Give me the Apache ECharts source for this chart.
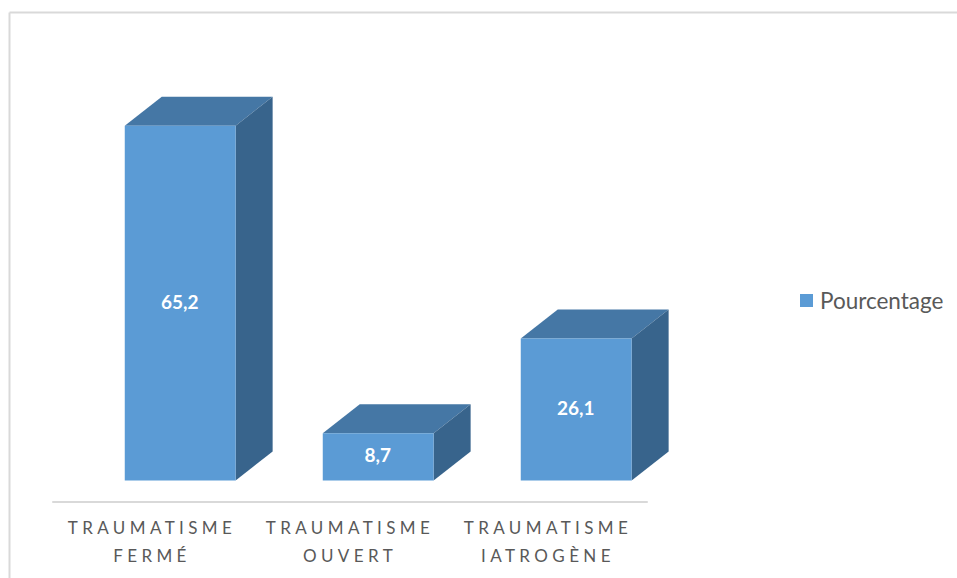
<!DOCTYPE html>
<html>
<head>
<meta charset="utf-8">
<title>Pourcentage</title>
<style>
  html, body { margin: 0; padding: 0; background: #fff; }
  #chart { width: 957px; height: 578px; }
  /* axis labels are spaced out, zrender has no option for it */
  #chart text[style*="Open Sans"] { letter-spacing: 4.4px; }
</style>
<script src="https://cdn.jsdelivr.net/npm/echarts@6/dist/echarts.min.js"></script>
</head>
<body>
<div id="chart"></div>
<script>
const categories = ["TRAUMATISME\nFERMÉ", "TRAUMATISME\nOUVERT", "TRAUMATISME\nIATROGÈNE"];
const seriesName = "Pourcentage";
const values = [65.2, 8.7, 26.1];

const chart = echarts.init(document.getElementById("chart"), null, { renderer: "svg" });

// fake 3D box: front face, top face, side face
function renderBox(params, api) {
  const idx = api.value(0);
  const val = api.value(1);
  const base = api.coord([idx, 0]);
  const top = api.coord([idx, val]);
  const w = api.size([1, 0])[0] * 0.56;
  const shift = 28.2;
  const dx = 37;
  const dy = -29;
  const x0 = base[0] + shift - w / 2;
  const x1 = x0 + w;
  const y0 = top[1];
  const y1 = base[1];
  return {
    type: "group",
    children: [
      {
        type: "polygon",
        shape: { points: [[x0, y0], [x0 + dx, y0 + dy], [x1 + dx, y0 + dy], [x1, y0]] },
        style: { fill: "#4577a5" }
      },
      {
        type: "polygon",
        shape: { points: [[x1, y0], [x1 + dx, y0 + dy], [x1 + dx, y1 + dy], [x1, y1]] },
        style: { fill: "#38648c" }
      },
      {
        type: "rect",
        shape: { x: x0, y: y0, width: w, height: y1 - y0 },
        style: { fill: "#5b9bd5" }
      },
      {
        type: "text",
        x: (x0 + x1) / 2 - 0.5,
        y: (y0 + y1) / 2 - 2,
        style: {
          text: String(val).replace(".", ","),
          fill: "#fff",
          font: "bold 19px Lato",
          align: "center",
          verticalAlign: "middle"
        }
      }
    ]
  };
}

chart.setOption({
  animation: false,
  backgroundColor: "#fff",
  grid: { left: 53, width: 594, top: 99.5, height: 381 },
  legend: {
    left: 795,
    top: 284,
    itemWidth: 13,
    itemHeight: 13,
    itemGap: 0,
    icon: "rect",
    data: [seriesName],
    formatter: "{name}",
    textStyle: { color: "#595959", fontFamily: "Lato", fontSize: 22.5, padding: [0, 0, 2, 2] }
  },
  xAxis: {
    type: "category",
    data: categories,
    offset: 21.5,
    axisLine: { onZero: false, lineStyle: { color: "#d9d9d9", width: 2 } },
    axisTick: { show: false },
    axisLabel: {
      interval: 0,
      margin: 11.5,
      color: "#595959",
      fontFamily: "Lato, 'Open Sans'",
      fontSize: 17,
      lineHeight: 28
    }
  },
  yAxis: { type: "value", min: 0, max: 70, show: false },
  series: [
    {
      name: seriesName,
      type: "custom",
      renderItem: renderBox,
      itemStyle: { color: "#5b9bd5" },
      encode: { x: 0, y: 1 },
      data: values.map((v, i) => [i, v])
    }
  ],
  graphic: [
    { type: "line", shape: { x1: 9.5, y1: 12.5, x2: 957, y2: 12.5 }, style: { stroke: "#d9d9d9", lineWidth: 2 } },
    { type: "line", shape: { x1: 9.5, y1: 12.5, x2: 9.5, y2: 578 }, style: { stroke: "#d9d9d9", lineWidth: 2 } }
  ]
});
</script>
</body>
</html>
